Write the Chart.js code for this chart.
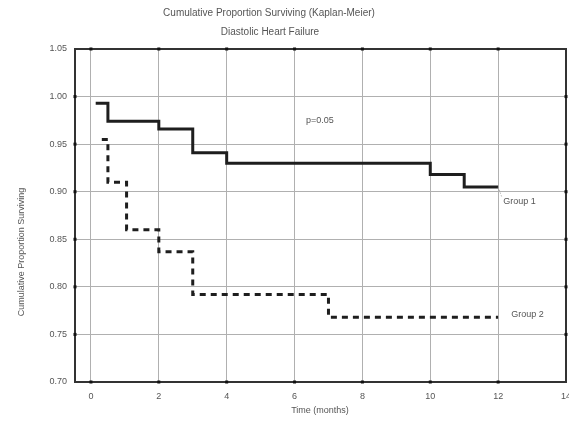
<!DOCTYPE html>
<html>
<head>
<meta charset="utf-8">
<script src="https://cdn.jsdelivr.net/npm/chart.js@4"></script>
<style>
  html, body { margin: 0; padding: 0; background: #fff; }
  #wrap { width: 569px; height: 426px; }
</style>
</head>
<body>
<div id="wrap"><canvas id="c" width="569" height="426"></canvas></div>
<script>
// Kaplan-Meier step points: [time in months, cumulative proportion surviving]
const group1Times  = [0.14, 0.5, 2, 3, 4, 10, 11, 12];
const group1Values = [0.993, 0.974, 0.966, 0.941, 0.930, 0.918, 0.905, 0.905];
const group2Times  = [0.32, 0.5, 1.05, 2, 3, 7, 12];
const group2Values = [0.955, 0.910, 0.860, 0.837, 0.792, 0.768, 0.768];

const xTicks = [0, 2, 4, 6, 8, 10, 12, 14];
const yTicks = [0.70, 0.75, 0.80, 0.85, 0.90, 0.95, 1.00, 1.05];

const titleLines = ['Cumulative Proportion Surviving (Kaplan-Meier)', 'Diastolic Heart Failure'];
const xTitle = 'Time (months)';
const yTitle = 'Cumulative Proportion Surviving';
const pLabel = 'p=0.05';
const seriesNames = ['Group 1', 'Group 2'];

const toPoints = (xs, ys) => xs.map((x, i) => ({ x: x, y: ys[i] }));

const FONT = '"Liberation Sans", Arial, sans-serif';
const TEXT = '#555';

// Frame, tick dots, titles and series labels
const decor = {
  id: 'decor',
  beforeDatasetsDraw(chart) {
    const { ctx, chartArea: a, scales } = chart;
    ctx.save();
    ctx.strokeStyle = '#333';
    ctx.lineWidth = 2;
    ctx.strokeRect(a.left, a.top, a.right - a.left, a.bottom - a.top);
    ctx.fillStyle = '#111';
    xTicks.forEach(v => {
      const px = scales.x.getPixelForValue(v);
      if (px > a.left + 2 && px < a.right - 2) {
        ctx.fillRect(px - 1.5, a.top - 1.5, 3, 3);
        ctx.fillRect(px - 1.5, a.bottom - 1.5, 3, 3);
      }
    });
    yTicks.forEach(v => {
      const py = scales.y.getPixelForValue(v);
      if (py > a.top + 2 && py < a.bottom - 2) {
        ctx.fillRect(a.left - 1.5, py - 1.5, 3, 3);
        ctx.fillRect(a.right - 1.5, py - 1.5, 3, 3);
      }
    });
    ctx.restore();
  },
  afterDraw(chart) {
    const { ctx, scales } = chart;
    ctx.save();
    ctx.fillStyle = TEXT;
    ctx.textBaseline = 'middle';
    ctx.textAlign = 'center';
    ctx.font = '10px ' + FONT;
    ctx.fillText(titleLines[0], 269, 13);
    ctx.fillText(titleLines[1], 270, 32);
    ctx.font = '9px ' + FONT;
    ctx.fillText(xTitle, 320, 411);
    ctx.save();
    ctx.translate(22, 252);
    ctx.rotate(-Math.PI / 2);
    ctx.fillText(yTitle, 0, 0);
    ctx.restore();

    ctx.textAlign = 'left';
    ctx.fillText(pLabel, 306, 121);
    const g1x = scales.x.getPixelForValue(group1Times[group1Times.length - 1]);
    const g1y = scales.y.getPixelForValue(group1Values[group1Values.length - 1]);
    const g2x = scales.x.getPixelForValue(group2Times[group2Times.length - 1]);
    const g2y = scales.y.getPixelForValue(group2Values[group2Values.length - 1]);
    ctx.fillText(seriesNames[0], g1x + 5, g1y + 15);
    ctx.fillText(seriesNames[1], g2x + 13, g2y - 3);
    ctx.strokeStyle = '#999';
    ctx.lineWidth = 1;
    ctx.setLineDash([1, 2]);
    ctx.beginPath();
    ctx.moveTo(g1x, g1y);
    ctx.lineTo(g1x + 4, g1y + 11);
    ctx.stroke();
    ctx.restore();
  }
};

new Chart(document.getElementById('c'), {
  type: 'line',
  data: {
    datasets: [
      {
        label: seriesNames[0],
        data: toPoints(group1Times, group1Values),
        stepped: 'before',
        borderColor: '#1e1e1e',
        borderWidth: 3,
        pointRadius: 0,
        fill: false
      },
      {
        label: seriesNames[1],
        data: toPoints(group2Times, group2Values),
        stepped: 'before',
        borderColor: '#1e1e1e',
        borderWidth: 3,
        borderDash: [6, 5],
        pointRadius: 0,
        fill: false
      }
    ]
  },
  options: {
    responsive: false,
    animation: false,
    events: [],
    layout: { padding: { top: 49, right: 3, left: 0, bottom: 0 } },
    plugins: {
      legend: { display: false },
      title: { display: false },
      tooltip: { enabled: false }
    },
    scales: {
      x: {
        type: 'linear',
        min: -0.47,
        max: 14,
        afterBuildTicks: s => { s.ticks = xTicks.map(v => ({ value: v })); },
        afterFit: s => { s.height = 44; s.paddingLeft = 0; s.paddingRight = 0; },
        border: { display: false },
        grid: { color: '#b0b0b0', lineWidth: 1, borderDash: [1, 2], drawTicks: false },
        ticks: {
          padding: 9,
          color: TEXT,
          maxRotation: 0,
          font: { size: 9, family: FONT },
          callback: v => String(v)
        }
      },
      y: {
        type: 'linear',
        min: 0.70,
        max: 1.05,
        afterBuildTicks: s => { s.ticks = yTicks.map(v => ({ value: v })); },
        afterFit: s => { s.width = 75; s.paddingTop = 0; s.paddingBottom = 0; },
        border: { display: false },
        grid: { color: '#b0b0b0', lineWidth: 1, borderDash: [1, 2], drawTicks: false },
        ticks: {
          padding: 8,
          color: TEXT,
          font: { size: 9, family: FONT },
          callback: v => Number(v).toFixed(2)
        }
      }
    }
  },
  plugins: [decor]
});
</script>
</body>
</html>
